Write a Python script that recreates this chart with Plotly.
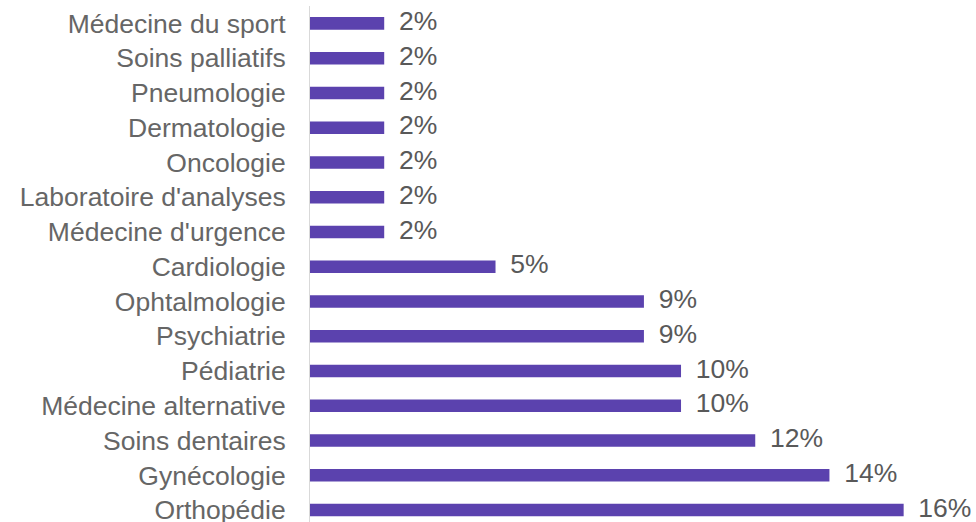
import plotly.graph_objects as go

categories = ["Médecine du sport", "Soins palliatifs", "Pneumologie", "Dermatologie",
              "Oncologie", "Laboratoire d'analyses", "Médecine d'urgence", "Cardiologie",
              "Ophtalmologie", "Psychiatrie", "Pédiatrie", "Médecine alternative",
              "Soins dentaires", "Gynécologie", "Orthopédie"]
values = [2, 2, 2, 2, 2, 2, 2, 5, 9, 9, 10, 10, 12, 14, 16]
value_labels = [f"{v}%" for v in values]

FONT = "Liberation Sans, Arial, sans-serif"
GRAY = "#595959"
LABEL_GRAY = "#666666"

fig = go.Figure()
fig.add_trace(go.Bar(
    x=values, y=categories, orientation="h",
    marker=dict(color="#5B42AE", line=dict(width=0)),
    hoverinfo="skip",
))
fig.add_trace(go.Scatter(
    x=values, y=categories, mode="text",
    text=["\u00a0\u00a0" + t for t in value_labels],
    textposition="middle right",
    textfont=dict(family=FONT, size=26.5, color=GRAY),
    cliponaxis=False, hoverinfo="skip",
))

fig.update_layout(
    width=976, height=522,
    margin=dict(l=310, r=0, t=6, b=0, autoexpand=False),
    paper_bgcolor="white", plot_bgcolor="white",
    showlegend=False, bargap=0.64,
    font=dict(family=FONT, size=26.5, color=GRAY),
    xaxis=dict(range=[0, 17.95], visible=False, showgrid=False, zeroline=False),
    yaxis=dict(
        type="category", categoryorder="array", categoryarray=categories,
        range=[14.345, -0.5], automargin=False,
        showline=True, linecolor="#D9D9D9", linewidth=1,
        showgrid=False, zeroline=False, ticks="",
        ticklabelstandoff=18,
        tickfont=dict(family=FONT, size=26.5, color=LABEL_GRAY),
    ),
)

fig.write_html("out.html", config={"displayModeBar": False},
               post_script="document.body.style.margin='0';")
